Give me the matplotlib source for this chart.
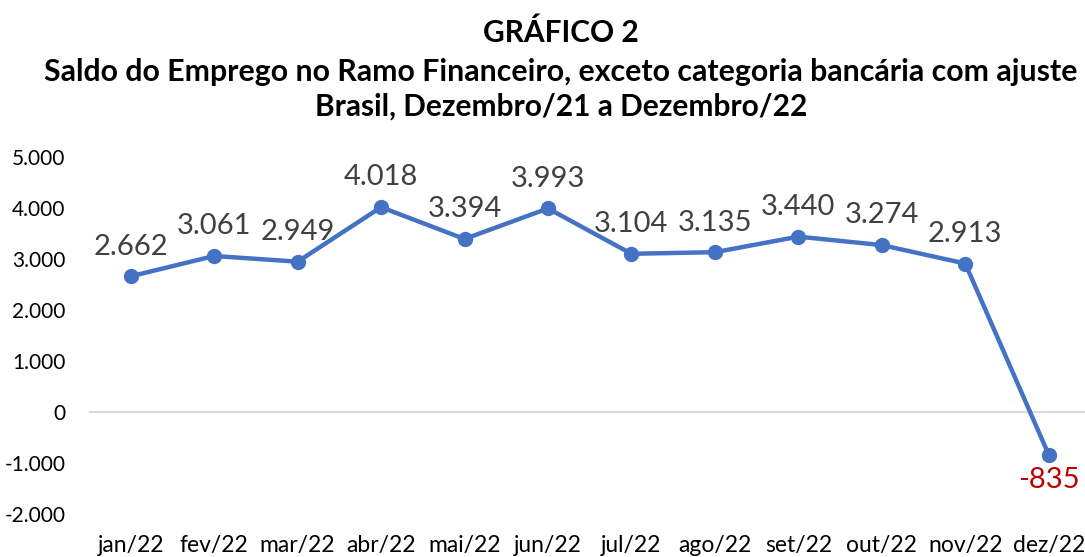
import matplotlib
matplotlib.use("Agg")
import matplotlib.pyplot as plt
from matplotlib.ticker import FuncFormatter

plt.rcParams["font.family"] = ["Lato", "DejaVu Sans"]

months = ["jan/22", "fev/22", "mar/22", "abr/22", "mai/22", "jun/22",
          "jul/22", "ago/22", "set/22", "out/22", "nov/22", "dez/22"]
saldo = [2662, 3061, 2949, 4018, 3394, 3993, 3104, 3135, 3440, 3274, 2913, -835]
y_ticks = [-2000, -1000, 0, 1000, 2000, 3000, 4000, 5000]

LINE_BLUE = "#4472C4"
LABEL_GRAY = "#404040"
NEG_RED = "#C00000"


def br_fmt(v, pos=None):
    # brazilian thousands separator
    return f"{int(v):,}".replace(",", ".")


fig = plt.figure(figsize=(10.85, 5.57), dpi=100)
ax = fig.add_axes([0.082, 0.077, 0.923, 0.641])

x = list(range(len(months)))
ax.plot(x, saldo, color=LINE_BLUE, lw=3.2, marker="o", ms=10, zorder=3)
ax.axhline(0, color="#D9D9D9", lw=1.5, zorder=1)

for xi, v in zip(x, saldo):
    if v >= 0:
        ax.annotate(br_fmt(v), (xi, v), xytext=(0, 12), textcoords="offset points",
                    ha="center", va="bottom", fontsize=21, color=LABEL_GRAY)
    else:
        ax.annotate(br_fmt(v), (xi, v), xytext=(0, -9), textcoords="offset points",
                    ha="center", va="top", fontsize=21, color=NEG_RED)

ax.set_xlim(-0.5, 11.5)
ax.set_ylim(-2000, 5000)
ax.set_yticks(y_ticks)
ax.yaxis.set_major_formatter(FuncFormatter(br_fmt))
ax.set_xticks(x)
ax.set_xticklabels(months)
ax.tick_params(axis="y", length=0, pad=17, labelsize=15)
ax.tick_params(axis="x", length=0, pad=15, labelsize=16.5)
for s in ax.spines.values():
    s.set_visible(False)

fig.text(0.517, 0.942, "GRÁFICO 2", ha="center", va="center",
         fontsize=21.5, fontweight="bold")
fig.text(0.517, 0.871, "Saldo do Emprego no Ramo Financeiro, exceto categoria bancária com ajuste",
         ha="center", va="center", fontsize=21.8, fontweight="bold")
fig.text(0.517, 0.808, "Brasil, Dezembro/21 a Dezembro/22", ha="center", va="center",
         fontsize=21.5, fontweight="bold")

fig.savefig("out.png", dpi=100)
